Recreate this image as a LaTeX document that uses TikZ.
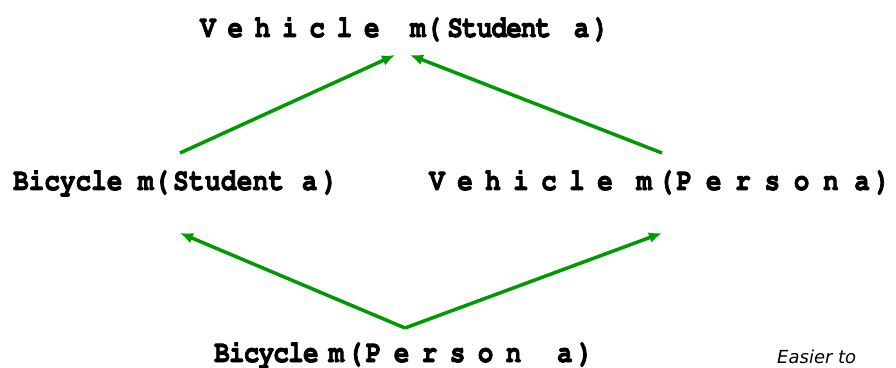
\documentclass[tikz,border=0pt]{standalone}
\usepackage[T1]{fontenc}
\usepackage{fontspec}
\usepackage{graphicx}
\usetikzlibrary{arrows.meta}
\definecolor{vert}{RGB}{0,153,0}
\newfontfamily\notefont{DejaVu Sans}
\newcommand{\courier}{\fontencoding{T1}\fontfamily{pcr}\fontseries{b}\selectfont}
\makeatletter
\newcommand{\spread}[2]{\def\spread@sep{}\@tfor\spread@ch:=#2\do{\spread@sep\spread@ch\def\spread@sep{\kern#1}}}
\makeatother
\newcommand{\gap}{\kern15.6pt}
\newcommand{\tall}[1]{\special{pdf:literal 2 Tr 0.7 w}\scalebox{1}[1.2]{#1}\special{pdf:literal 0 Tr}}
\tikzset{
  txt/.style={anchor=base west, inner sep=0pt, font=\fontsize{26pt}{26pt}\courier},
  arr/.style={draw=vert, line width=3.5pt, -{Latex[length=13pt,width=11pt]}}
}
\begin{document}
\begin{tikzpicture}[x=1pt,y=1pt]
\useasboundingbox (0,0) rectangle (896,367);
% the four methods
\node[txt] (vs) at (200,330) {\tall{\spread{11.7pt}{Vehicle}\kern15pt\gap m(\kern6pt\spread{-0.9pt}{Student}\gap\kern7pt a\kern4pt)}};
\node[txt] (bs) at (13,177) {\tall{Bicycle\gap m(\kern4pt\spread{0.3pt}{Student}\gap\kern2pt a\kern5pt)}};
\node[txt] (vp) at (429,177) {\tall{\spread{12.4pt}{Vehicle}\kern8pt\gap m\kern6pt(\kern3pt\spread{13.7pt}{Person}\gap a\kern5pt)}};
\node[txt] (bp) at (214,5) {\tall{\spread{-0.8pt}{Bicycle}\kern10pt m\kern3pt(\kern3pt\spread{12.4pt}{Person}\gap\kern20pt a\kern5pt)}};
\node[anchor=base west, inner sep=0pt, font=\fontsize{18pt}{18pt}\notefont\itshape] (note) at (777,4) {Easier to};
% arrows
\draw[arr] ([shift={(167pt,37pt)}]bs.base west) -- ([shift={(195pt,-18pt)}]vs.base west);
\draw[arr] ([shift={(233pt,37pt)}]vp.base west) -- ([shift={(210pt,-18pt)}]vs.base west);
\draw[arr] ([shift={(191pt,34pt)}]bp.base west) -- ([shift={(167pt,-43pt)}]bs.base west);
\draw[arr] ([shift={(191pt,34pt)}]bp.base west) -- ([shift={(233pt,-43pt)}]vp.base west);
\end{tikzpicture}
\end{document}
